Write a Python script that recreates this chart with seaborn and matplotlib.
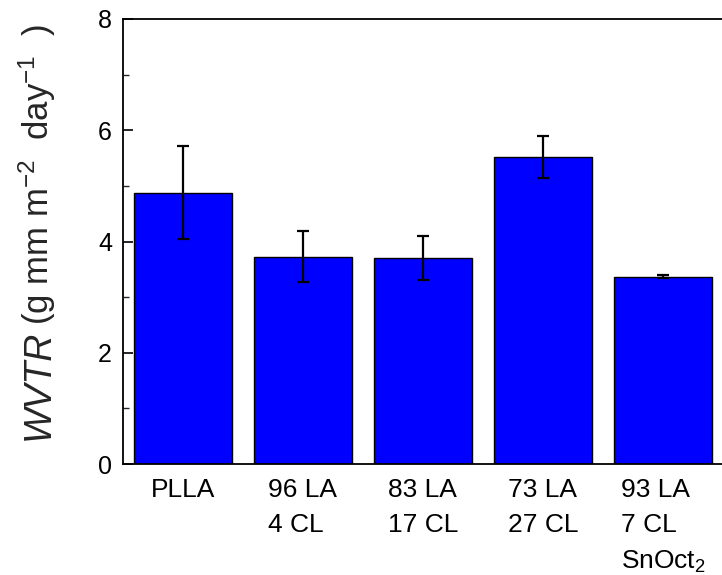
import matplotlib
matplotlib.use("Agg")
import matplotlib.pyplot as plt
from matplotlib.ticker import MultipleLocator
import numpy as np
import pandas as pd
import seaborn as sns

# Water vapour transmission rate for each film
samples = ["PLLA", "96 LA\n4 CL", "83 LA\n17 CL", "73 LA\n27 CL", "93 LA\n7 CL\nSnOct$_2$"]
wvtr = [4.88, 3.73, 3.70, 5.52, 3.37]
wvtr_err = [0.83, 0.45, 0.39, 0.37, 0.03]
y_ticks = [0, 2, 4, 6, 8]

sns.set_theme(style="ticks")
plt.rcParams["font.family"] = ["Liberation Sans", "DejaVu Sans"]
plt.rcParams["mathtext.fontset"] = "custom"
plt.rcParams["mathtext.rm"] = "Liberation Sans"
plt.rcParams["mathtext.it"] = "Liberation Sans:italic"

fig = plt.figure(figsize=(7.22, 5.75), dpi=100)
ax = fig.add_axes([123 / 722, 1 - 464 / 575, 600 / 722, 445 / 575])

df = pd.DataFrame({"sample": samples, "wvtr": wvtr})
sns.barplot(data=df, x="sample", y="wvtr", color="#0000FF", saturation=1,
            edgecolor="black", linewidth=1.0, width=0.81, errorbar=None, ax=ax)
ax.errorbar(np.arange(len(samples)), wvtr, yerr=wvtr_err, fmt="none",
            ecolor="black", elinewidth=1.6, capsize=4, capthick=1.6)

ax.set_xlim(-0.5, len(samples) - 0.5)
ax.set_ylim(0, 8)
ax.set_yticks(y_ticks)
ax.yaxis.set_minor_locator(MultipleLocator(1))
ax.tick_params(axis="y", which="major", direction="in", length=7, width=1.2,
               labelsize=18, pad=8, colors="black")
ax.tick_params(axis="y", which="minor", direction="in", length=4, width=1.0)

# category labels: block centred under each bar, lines left-aligned
ax.set_xticks(np.arange(len(samples)))
ax.set_xticklabels(samples, ha="center", multialignment="left", linespacing=1.6)
ax.tick_params(axis="x", length=0, labelsize=19, pad=10, colors="black")
ax.set_xlabel("")
ax.set_ylabel("")

for side in ["left", "top", "bottom"]:
    ax.spines[side].set_visible(True)
    ax.spines[side].set_color("black")
    ax.spines[side].set_linewidth(1.3)
ax.spines["right"].set_visible(False)

# y-axis title made of two pieces
t1 = fig.text(49 / 722, 1 - 440 / 575, "WVTR", rotation=90, rotation_mode="anchor",
              ha="left", va="baseline", fontsize=27, style="italic")
fig.canvas.draw()
bb = t1.get_window_extent()
fig.text(49 / 722, (bb.y1 + 5) / fig.bbox.height,
         r"(g mm m$^{\mathregular{-2}}$  day$^{\mathregular{-1}}$  )", rotation=90,
         rotation_mode="anchor", ha="left", va="baseline", fontsize=25)

fig.savefig("out.png", dpi=100)
